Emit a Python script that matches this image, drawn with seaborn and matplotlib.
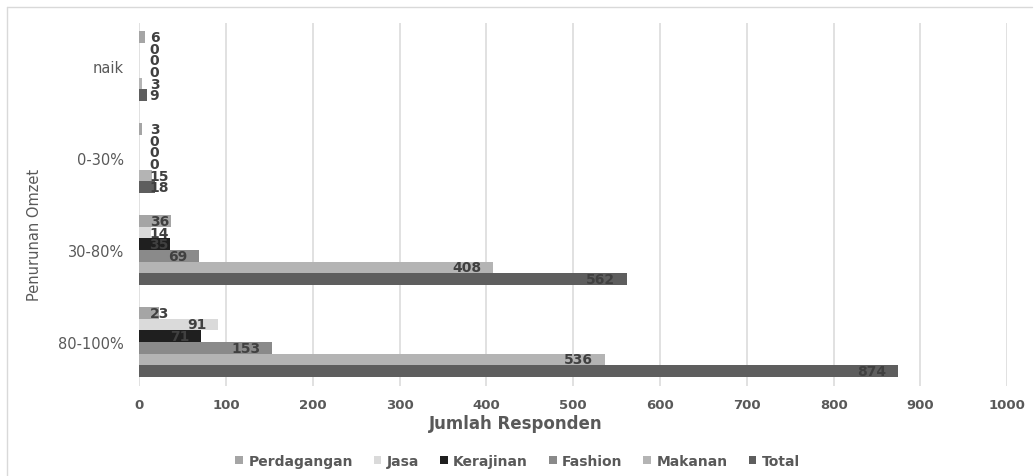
import matplotlib
matplotlib.use("Agg")
import matplotlib.pyplot as plt
from matplotlib.lines import Line2D
from matplotlib.patches import Patch
import seaborn as sns
import pandas as pd

# Revenue-drop groups and respondent counts per business sector
categories = ["naik", "0-30%", "30-80%", "80-100%"]
sectors = ["Perdagangan", "Jasa", "Kerajinan", "Fashion", "Makanan", "Total"]

perdagangan = [6, 3, 36, 23]
jasa = [0, 0, 14, 91]
kerajinan = [0, 0, 35, 71]
fashion = [0, 0, 69, 153]
makanan = [3, 15, 408, 536]
total = [9, 18, 562, 874]

x_ticks = [0, 100, 200, 300, 400, 500, 600, 700, 800, 900, 1000]

series = [perdagangan, jasa, kerajinan, fashion, makanan, total]
rows = []
for name, values in zip(sectors, series):
    for cat, v in zip(categories, values):
        rows.append({"Penurunan Omzet": cat, "Sektor": name, "Jumlah": v})
df = pd.DataFrame(rows)

colors = ["#a5a5a5", "#dadada", "#1f1f1f", "#8a8a8a", "#b4b4b4", "#5e5e5e"]
palette = dict(zip(sectors, colors))

sns.set_style("white")
plt.rcParams["font.family"] = ["DejaVu Sans"]

fig = plt.figure(figsize=(10.35, 4.77), dpi=100)
ax = fig.add_axes([0.1346, 0.1887, 0.8386, 0.761])

sns.barplot(data=df, y="Penurunan Omzet", x="Jumlah", hue="Sektor",
            order=categories, hue_order=sectors, palette=palette,
            orient="h", width=0.76, saturation=1, legend=False, ax=ax,
            edgecolor="none")

ax.set_xlim(0, 1000)
ax.set_ylim(3.48, -0.47)
ax.set_xticks(x_ticks)
ax.grid(axis="x", color="#d9d9d9", linewidth=1.1)
ax.grid(axis="y", visible=False)
ax.set_axisbelow(True)
for s in ax.spines.values():
    s.set_visible(False)
ax.tick_params(axis="both", length=0)
ax.tick_params(axis="x", pad=9, labelsize=9.5, labelcolor="#595959")
ax.tick_params(axis="y", pad=11, labelsize=10.5, labelcolor="#595959")
for t in ax.get_xticklabels():
    t.set_fontweight("bold")

ax.set_xlabel("Jumlah Responden", fontsize=12, fontweight="bold",
              color="#595959", va="center")
ax.xaxis.set_label_coords(0.434, -0.102)
ax.set_ylabel("Penurunan Omzet", fontsize=10.5, color="#595959")
ax.yaxis.set_label_coords(-0.112, 0.42)

# Value labels at the inner end of each bar, pushed right when the bar is short
units_per_char = 11.1
for container, values in zip(ax.containers, series):
    for bar, v in zip(container.patches, values):
        txt = str(v)
        right = max(v - 13.5, 12 + units_per_char * len(txt))
        yc = bar.get_y() + bar.get_height() / 2
        ax.text(right, yc, txt, ha="right", va="center", fontsize=10,
                fontweight="bold", color="#404040")

handles = [Patch(facecolor=c, edgecolor="none") for c in colors]
fig.legend(handles, sectors, loc="center", bbox_to_anchor=(0.5, 0.032),
           ncol=6, frameon=False, handlelength=0.55, handleheight=0.55,
           handletextpad=0.4, columnspacing=1.5,
           prop={"size": 10, "weight": "bold"}, labelcolor="#595959")

# Chart-area border
bx = 7 / 1035
by = 1 - 7.5 / 477
fig.add_artist(Line2D([bx, 0.997], [by, by], transform=fig.transFigure,
                      color="#d9d9d9", linewidth=1))
fig.add_artist(Line2D([bx, bx], [0, by], transform=fig.transFigure,
                      color="#d9d9d9", linewidth=1))

fig.savefig("out.png", dpi=100)
